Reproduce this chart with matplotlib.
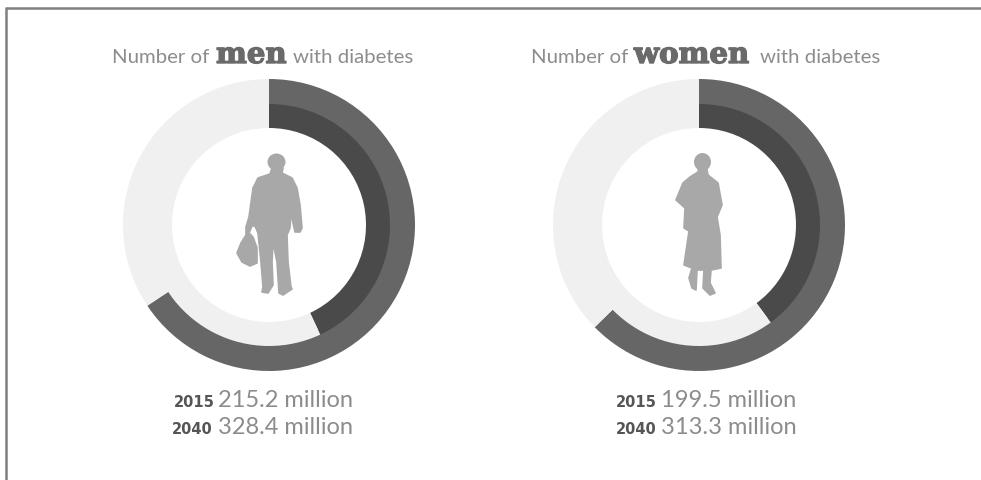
import matplotlib
matplotlib.use('Agg')
from matplotlib import pyplot as plt
from matplotlib.patches import Polygon, Ellipse
from matplotlib import patheffects

plt.rcParams['font.family'] = ['Lato', 'DejaVu Sans']

total = 500
men_values = [215.2, 328.4]
women_values = [199.5, 313.3]
years = ['2015', '2040']

H = 480
DARK_2015 = '#4a4a4a'
DARK_2040 = '#666666'
LIGHT = '#f0f0f0'
FIGURE = '#a8a8a8'

# silhouettes traced in pixels of the picture
man = [(272, 168), (270, 174), (258, 178), (253, 188), (249, 217), (246, 227), (246, 235), (241, 243),
       (237, 253), (242, 262), (250, 266), (257, 263), (257, 248), (253, 237), (249, 233), (252, 226),
       (255, 226), (258, 233), (261, 262), (263, 287), (262, 292), (268, 293), (273, 285), (272, 262),
       (273, 242), (277, 262), (279, 293), (283, 295), (292, 289), (291, 287), (288, 262), (287, 235),
       (290, 228), (291, 212), (293, 223), (295, 232), (300, 232), (302, 228), (300, 205), (297, 188),
       (292, 178), (282, 173), (283, 168)]
woman = [(699, 165), (698, 172), (690, 177), (683, 183), (676, 200), (685, 208), (684, 228), (689, 231),
         (684, 265), (692, 268), (689, 278), (692, 288), (696, 290), (697, 270), (704, 270), (703, 288),
         (710, 295), (715, 293), (710, 283), (711, 270), (721, 268), (720, 235), (717, 217), (722, 205),
         (718, 183), (708, 175), (706, 165)]


def y_(y):
    return H - y


def ring(ax, cx, cy, values):
    ax.pie([values[1], total - values[1]], colors=[DARK_2040, LIGHT], startangle=90, counterclock=False,
           center=(cx, y_(cy)), radius=146, wedgeprops={'width': 30, 'linewidth': 0})
    ax.pie([values[0], total - values[0]], colors=[DARK_2015, LIGHT], startangle=90, counterclock=False,
           center=(cx, y_(cy)), radius=121, wedgeprops={'width': 24, 'linewidth': 0, 'zorder': 3})


def title(ax, word, size, xs):
    ax.text(xs[0], y_(63), 'Number of', fontsize=14.7, color='#8c8c8c')
    t = ax.text(xs[1], y_(63), word, fontsize=size, weight='bold', family='DejaVu Serif', color='#6a6a6a')
    t.set_path_effects([patheffects.withStroke(linewidth=1, foreground='#6a6a6a')])
    ax.text(xs[2], y_(63), 'with diabetes', fontsize=14.7, color='#8c8c8c')


def numbers(ax, values, xs):
    ax.text(xs[0], y_(407), years[0], fontsize=10.5, weight='bold', family='DejaVu Sans', color='#555555')
    ax.text(xs[1], y_(407), '%.1f million' % values[0], fontsize=17, color='#8c8c8c')
    ax.text(xs[2], y_(434), years[1], fontsize=10.5, weight='bold', family='DejaVu Sans', color='#555555')
    ax.text(xs[3], y_(434), '%.1f million' % values[1], fontsize=17, color='#8c8c8c')


fig = plt.figure(figsize=(9.81, 4.80), dpi=100)
ax = fig.add_axes([0, 0, 1, 1])

ring(ax, 269, 225, men_values)
ring(ax, 699, 225, women_values)

ax.set_xlim(0, 981)
ax.set_ylim(0, H)
ax.set_aspect('auto')
ax.axis('off')

for shape in (man, woman):
    ax.add_patch(Polygon([(x, y_(y)) for x, y in shape], closed=True, facecolor=FIGURE, edgecolor=FIGURE,
                         lw=1.2, joinstyle='round', zorder=4))
ax.add_patch(Ellipse((276.5, y_(162)), 18, 17, color=FIGURE, lw=0, zorder=4))
ax.add_patch(Ellipse((702.5, y_(162)), 17, 18, color=FIGURE, lw=0, zorder=4))

title(ax, 'men', 21, (112, 216, 293))
title(ax, 'women', 21, (531, 634, 760))
numbers(ax, men_values, (174, 218, 172, 218))
numbers(ax, women_values, (616, 661, 616, 661))

# frame only on the top and left
ax.plot([6, 981], [y_(8), y_(8)], color='#808080', lw=1.8, solid_capstyle='butt')
ax.plot([6, 6], [y_(7), 0], color='#808080', lw=1.8, solid_capstyle='butt')

fig.savefig('out.png', dpi=100)
